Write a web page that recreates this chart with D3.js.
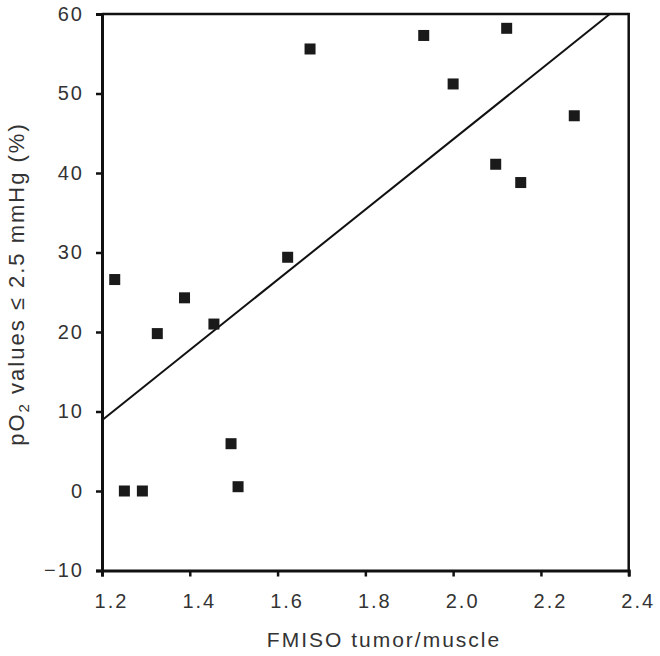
<!DOCTYPE html>
<html>
<head>
<meta charset="utf-8">
<script src="https://cdn.jsdelivr.net/npm/d3@7"></script>
<style>
  body { margin: 0; background: #fff; }
  svg text { font-family: "Liberation Sans", Arial, sans-serif; fill: #333; letter-spacing: 2px; }
</style>
</head>
<body>
<div id="chart"></div>
<script>
// FMISO tumor/muscle ratio vs fraction of pO2 values <= 2.5 mmHg
var fmiso = [1.229, 1.251, 1.292, 1.326, 1.388, 1.455, 1.494, 1.510, 1.623, 1.674, 1.933, 2.000, 2.097, 2.122, 2.154, 2.276];
var po2   = [26.6, 0, 0, 19.8, 24.3, 21.0, 5.95, 0.54, 29.4, 55.6, 57.3, 51.2, 41.1, 58.2, 38.8, 47.2];

// regression line end points (x, y)
var fitX = [1.2, 2.357];
var fitY = [8.9, 60];

var xTicks = [1.2, 1.4, 1.6, 1.8, 2.0, 2.2, 2.4];
var yTicks = [-10, 0, 10, 20, 30, 40, 50, 60];

var width = 660, height = 656;
var svg = d3.select('#chart').append('svg')
  .attr('width', width)
  .attr('height', height);

var x = d3.scaleLinear().domain([1.2, 2.4]).range([102, 628.7]);
var y = d3.scaleLinear().domain([-10, 60]).range([570.5, 14]);

// frame: top and right
svg.append('path')
  .attr('d', 'M' + x(1.2) + ',' + y(60) + 'H' + x(2.4) + 'V' + y(-10))
  .attr('fill', 'none')
  .attr('stroke', '#111')
  .attr('stroke-width', 2.5);

var yAxis = svg.append('g')
  .attr('transform', 'translate(' + x(1.2) + ',0)')
  .call(d3.axisLeft(y).tickValues(yTicks).tickSize(6).tickPadding(12)
    .tickFormat(function(d) { return d < 0 ? '\u2212' + Math.abs(d) : d; }));

var xAxis = svg.append('g')
  .attr('transform', 'translate(0,' + y(-10) + ')')
  .call(d3.axisBottom(x).tickValues(xTicks).tickSize(6).tickPadding(17)
    .tickFormat(d3.format('.1f')));

[xAxis, yAxis].forEach(function(a) {
  a.select('.domain').attr('stroke', '#111').attr('stroke-width', 3);
  a.selectAll('.tick line').attr('stroke', '#111').attr('stroke-width', 2.5);
  a.selectAll('text').attr('font-size', 20).style('fill', '#333');
});
xAxis.selectAll('text').attr('dx', 9);

// regression line
svg.append('line')
  .attr('x1', x(fitX[0])).attr('y1', y(fitY[0]))
  .attr('x2', x(fitX[1])).attr('y2', y(fitY[1]))
  .attr('stroke', '#111')
  .attr('stroke-width', 2);

// points
var s = 11;
svg.selectAll('rect.pt')
  .data(fmiso)
  .enter().append('rect')
  .attr('class', 'pt')
  .attr('x', function(d) { return x(d) - s / 2; })
  .attr('y', function(d, i) { return y(po2[i]) - s / 2; })
  .attr('width', s)
  .attr('height', s)
  .attr('fill', '#1a1a1a');

// axis titles
svg.append('text')
  .attr('x', 384)
  .attr('y', 647)
  .attr('text-anchor', 'middle')
  .attr('font-size', 21)
  .text('FMISO tumor/muscle');

var yl = svg.append('text')
  .attr('transform', 'translate(24,284) rotate(-90)')
  .attr('text-anchor', 'middle')
  .attr('font-size', 22);
yl.append('tspan').text('pO');
yl.append('tspan').attr('font-size', 15).attr('dy', 5).text('2');
yl.append('tspan').attr('dy', -5).text(' values \u2264 2.5 mmHg (%)');
</script>
</body>
</html>
